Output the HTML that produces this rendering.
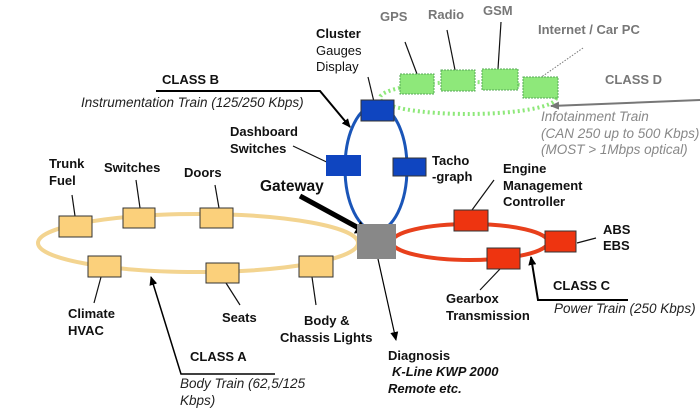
<!DOCTYPE html>
<html><head><meta charset="utf-8"><style>
html,body{margin:0;padding:0;background:#fff;}
svg{display:block;font-family:"Liberation Sans",Arial,sans-serif;}
.b{font-weight:bold;font-size:13px;fill:#111;}
.n{font-size:13px;fill:#111;}
.i{font-style:italic;font-size:13.5px;fill:#222;}
.g{font-weight:bold;font-size:13px;fill:#777;}
.gi{font-style:italic;font-size:13.5px;fill:#888;}
</style></head><body>
<svg width="700" height="415" viewBox="0 0 700 415" xmlns="http://www.w3.org/2000/svg">
<defs>
<marker id="a" markerWidth="10" markerHeight="10" refX="8" refY="5" orient="auto" markerUnits="userSpaceOnUse"><path d="M0,1 L9,5 L0,9 z" fill="#000"/></marker>
<marker id="ag" markerWidth="10" markerHeight="10" refX="8" refY="5" orient="auto" markerUnits="userSpaceOnUse"><path d="M0,1 L9,5 L0,9 z" fill="#777"/></marker>
<marker id="ab" markerWidth="16" markerHeight="16" refX="10" refY="8" orient="auto" markerUnits="userSpaceOnUse"><path d="M0,1 L12,8 L0,15 z" fill="#000"/></marker>
</defs>
<ellipse cx="198" cy="243" rx="160" ry="29" fill="none" stroke="#f3d490" stroke-width="4"/>
<ellipse cx="470" cy="242" rx="78" ry="18" fill="none" stroke="#e8401c" stroke-width="4"/>
<ellipse cx="376" cy="168" rx="31" ry="63" fill="none" stroke="#1a55b8" stroke-width="3"/>
<ellipse cx="468" cy="98" rx="88" ry="16" fill="none" stroke="#8ee87a" stroke-width="4" stroke-dasharray="2 3"/>
<g stroke="#111" stroke-width="1.2" fill="none">
<line x1="405" y1="42" x2="417" y2="74"/>
<line x1="447" y1="30" x2="455" y2="70"/>
<line x1="501" y1="22" x2="498" y2="69"/>
<line x1="368" y1="77" x2="375" y2="106"/>
<line x1="293" y1="146" x2="335" y2="166"/>
<line x1="405" y1="166" x2="425" y2="168"/>
<line x1="72" y1="195" x2="75" y2="216"/>
<line x1="136" y1="180" x2="140" y2="208"/>
<line x1="215" y1="185" x2="219" y2="208"/>
<line x1="494" y1="180" x2="472" y2="210"/>
<line x1="577" y1="243" x2="596" y2="238"/>
<line x1="101" y1="277" x2="94" y2="303"/>
<line x1="226" y1="283" x2="240" y2="305"/>
<line x1="312" y1="277" x2="316" y2="305"/>
<line x1="500" y1="269" x2="480" y2="290"/>
</g>
<line x1="583" y1="48" x2="540" y2="78" stroke="#777" stroke-width="1" stroke-dasharray="1.5 1.5"/>
<polyline points="156,91 320,91 350,127" fill="none" stroke="#000" stroke-width="2" marker-end="url(#a)"/>
<polyline points="700,100 551,106" fill="none" stroke="#777" stroke-width="2" marker-end="url(#ag)"/>
<polyline points="628,300 538,300 531,257" fill="none" stroke="#000" stroke-width="2" marker-end="url(#a)"/>
<polyline points="275,374 181,374 151,277" fill="none" stroke="#000" stroke-width="1.5" marker-end="url(#a)"/>
<line x1="378" y1="259" x2="396" y2="340" stroke="#000" stroke-width="1.2" marker-end="url(#a)"/>
<line x1="300" y1="196" x2="366" y2="232" stroke="#000" stroke-width="5" marker-end="url(#ab)"/>
<g stroke="#333" stroke-width="1">
<rect x="59" y="216" width="33" height="21" fill="#fbd07b"/>
<rect x="123" y="208" width="32" height="20" fill="#fbd07b"/>
<rect x="200" y="208" width="33" height="20" fill="#fbd07b"/>
<rect x="88" y="256" width="33" height="21" fill="#fbd07b"/>
<rect x="206" y="263" width="33" height="20" fill="#fbd07b"/>
<rect x="299" y="256" width="34" height="21" fill="#fbd07b"/>
<rect x="454" y="210" width="34" height="21" fill="#ee3410"/>
<rect x="545" y="231" width="31" height="21" fill="#ee3410"/>
<rect x="487" y="248" width="33" height="21" fill="#ee3410"/>
<rect x="361" y="100" width="33" height="21" fill="#0f45c0"/>
<rect x="326" y="155" width="35" height="21" fill="#0f45c0" stroke="none"/>
<rect x="393" y="158" width="33" height="18" fill="#0f45c0"/>
</g>
<g stroke="#5a5" stroke-width="1" stroke-dasharray="2 1" fill="#8ee87a">
<rect x="400" y="74" width="34" height="20"/>
<rect x="441" y="70" width="34" height="21"/>
<rect x="482" y="69" width="36" height="21"/>
<rect x="523" y="77" width="35" height="21"/>
</g>
<rect x="357" y="224" width="39" height="35" fill="#888"/>
<text class="g" x="380" y="21">GPS</text>
<text class="g" x="428" y="19">Radio</text>
<text class="g" x="483" y="15">GSM</text>
<text class="g" x="538" y="34">Internet / Car PC</text>
<text class="b" x="316" y="38">Cluster</text>
<text class="n" x="316" y="55">Gauges</text>
<text class="n" x="316" y="71">Display</text>
<text class="b" x="162" y="84">CLASS B</text>
<text class="i" x="81" y="107">Instrumentation Train (125/250 Kbps)</text>
<text class="g" x="605" y="84">CLASS D</text>
<text class="gi" x="541" y="121">Infotainment  Train</text>
<text class="gi" x="541" y="138">(CAN 250 up to 500 Kbps)</text>
<text class="gi" x="541" y="154">(MOST &gt; 1Mbps optical)</text>
<text class="b" x="230" y="136">Dashboard</text>
<text class="b" x="230" y="153">Switches</text>
<text class="b" x="432" y="165">Tacho</text>
<text class="b" x="432" y="181">-graph</text>
<text class="b" x="49" y="168">Trunk</text>
<text class="b" x="49" y="185">Fuel</text>
<text class="b" x="104" y="172">Switches</text>
<text class="b" x="184" y="177">Doors</text>
<text class="b" x="260" y="191" style="font-size:15.5px">Gateway</text>
<text class="b" x="503" y="173">Engine</text>
<text class="b" x="503" y="190">Management</text>
<text class="b" x="503" y="206">Controller</text>
<text class="b" x="603" y="234">ABS</text>
<text class="b" x="603" y="250">EBS</text>
<text class="b" x="68" y="318">Climate</text>
<text class="b" x="68" y="335">HVAC</text>
<text class="b" x="222" y="322">Seats</text>
<text class="b" x="304" y="325">Body &amp;</text>
<text class="b" x="280" y="342">Chassis Lights</text>
<text class="b" x="446" y="303">Gearbox</text>
<text class="b" x="446" y="320">Transmission</text>
<text class="b" x="553" y="290">CLASS C</text>
<text class="i" x="554" y="313">Power Train (250 Kbps)</text>
<text class="b" x="388" y="360">Diagnosis</text>
<text class="b" x="392" y="376" style="font-style:italic">K-Line KWP 2000</text>
<text class="b" x="388" y="393" style="font-style:italic">Remote etc.</text>
<text class="b" x="190" y="361">CLASS A</text>
<text class="i" x="180" y="388">Body Train (62,5/125</text>
<text class="i" x="180" y="405">Kbps)</text>
</svg>
</body></html>
